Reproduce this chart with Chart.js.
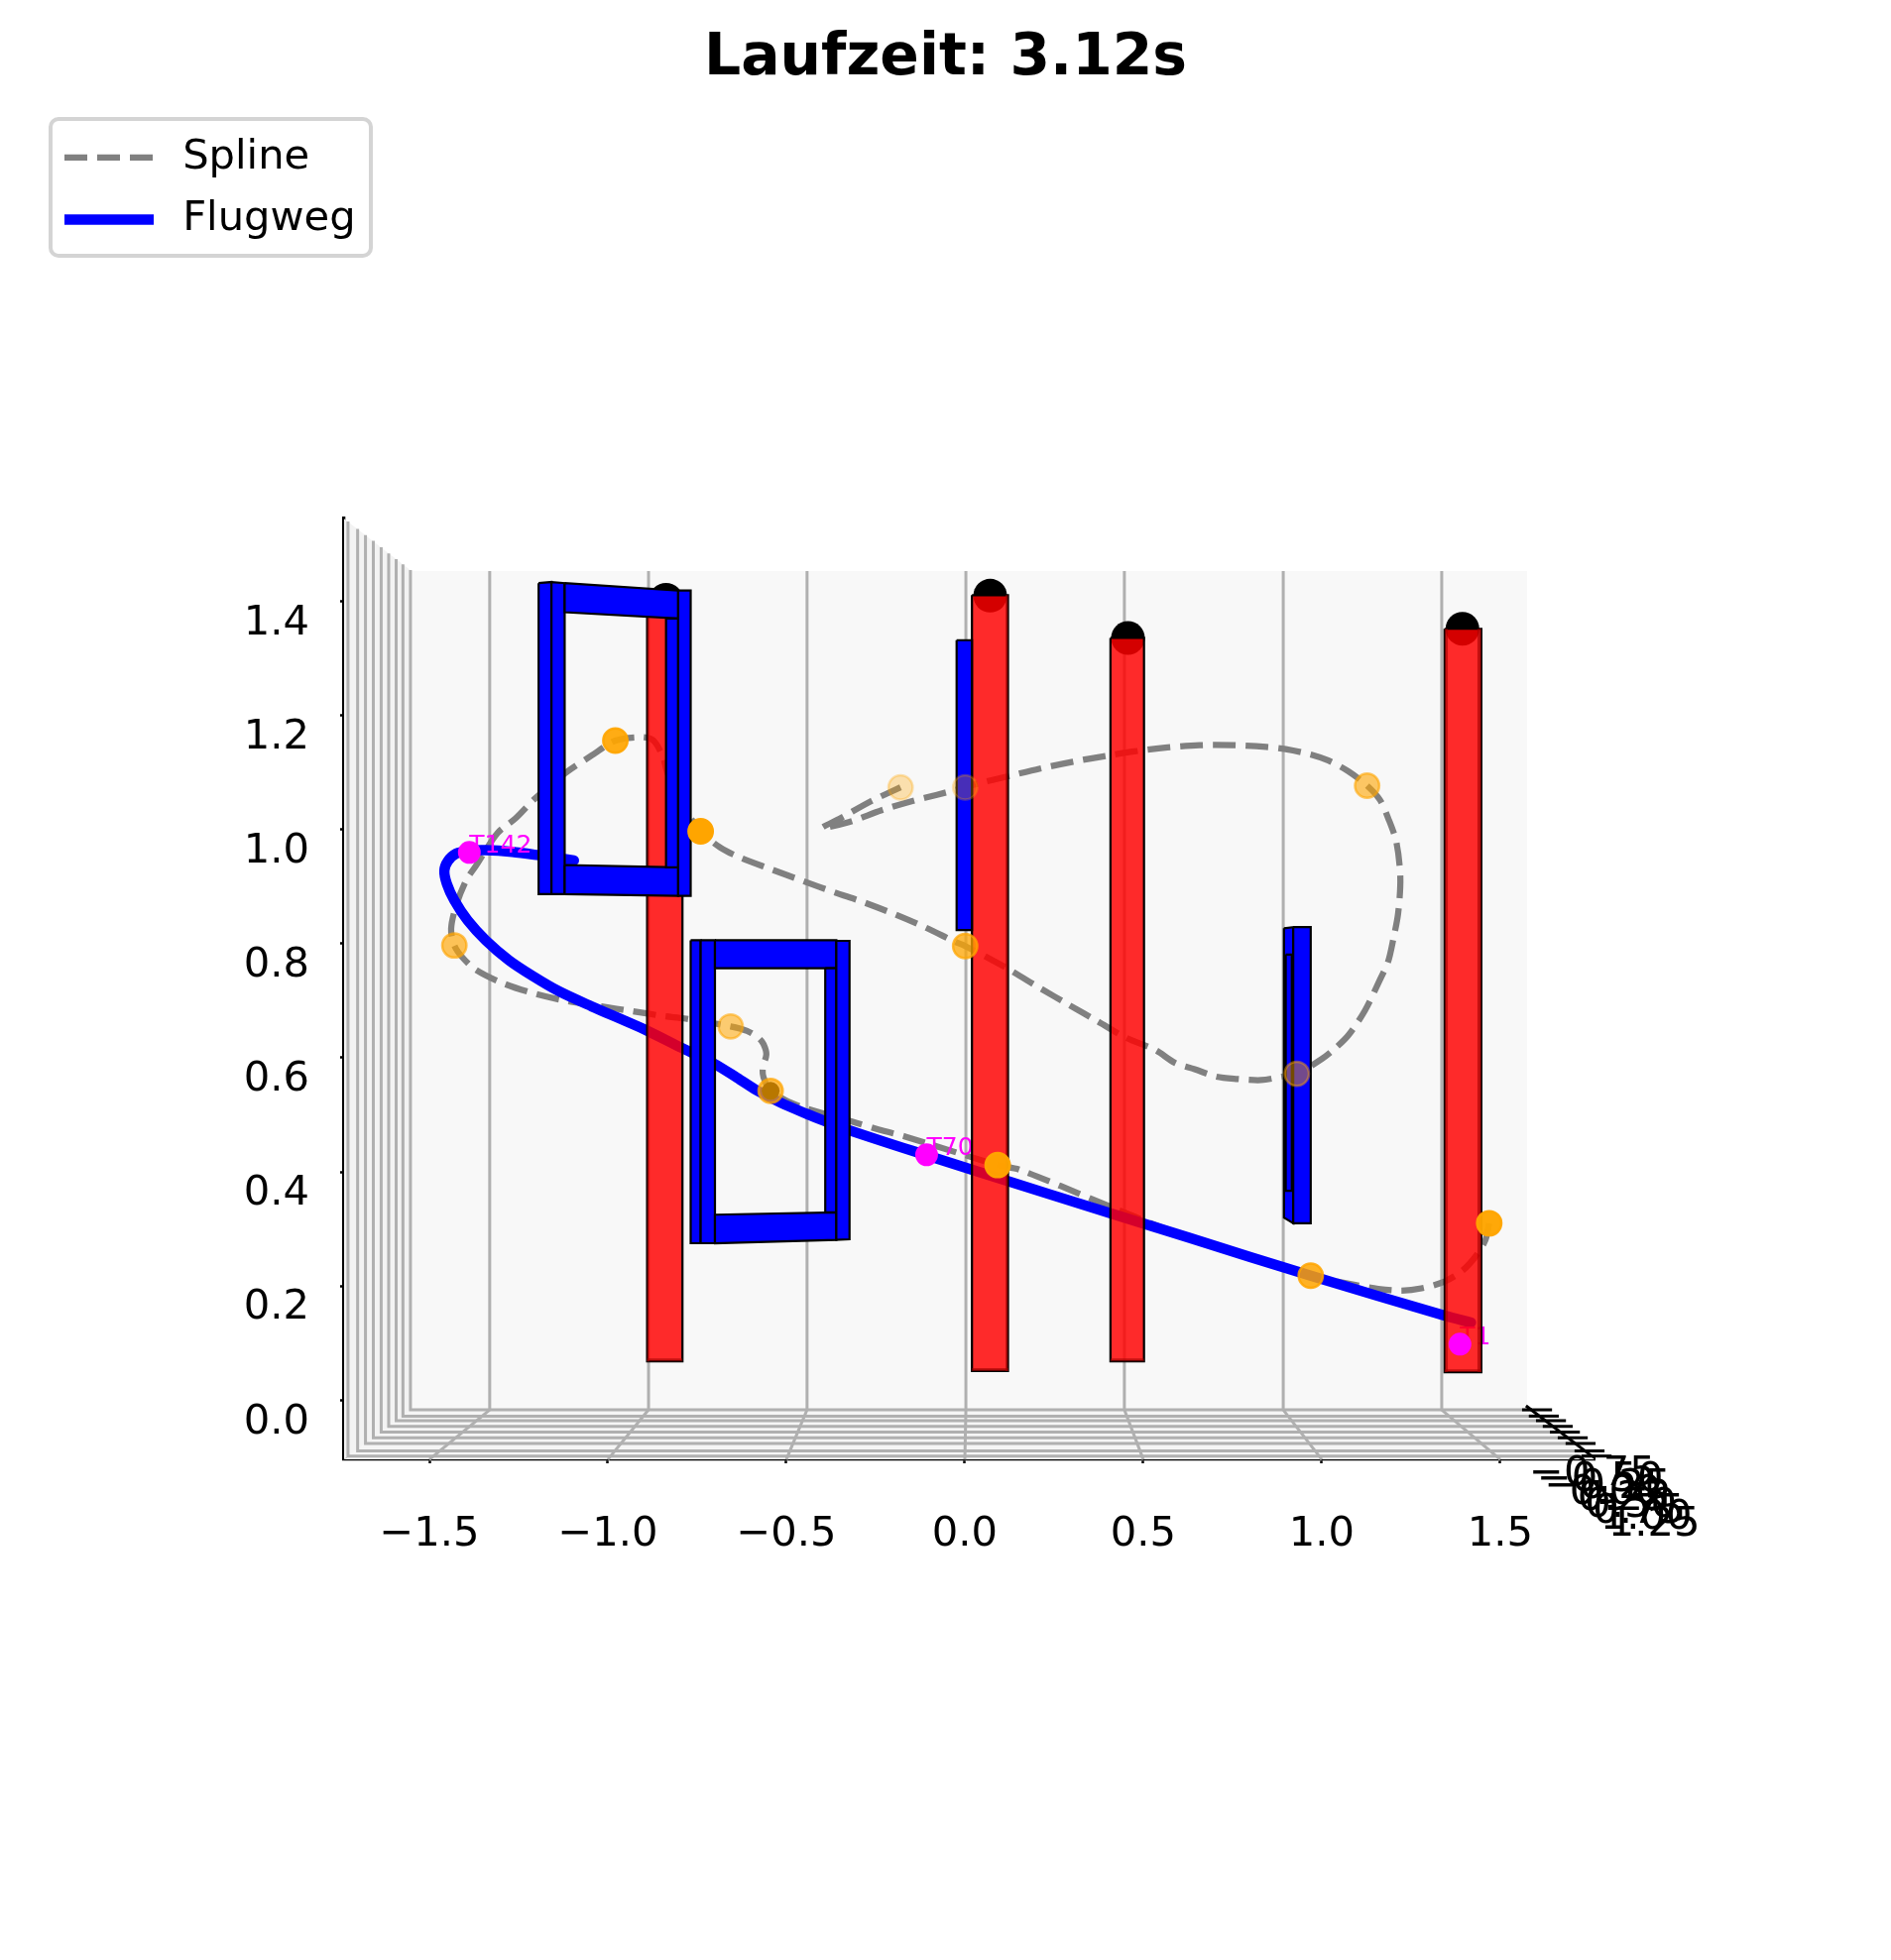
<!DOCTYPE html>
<html>
<head>
<meta charset="utf-8">
<title>Laufzeit</title>
<script src="https://cdn.jsdelivr.net/npm/chart.js@4"></script>
<style>
    html, body { margin: 0; padding: 0; background: #fff; }
    canvas { display: block; }
</style>
</head>
<body>
<canvas id="flight-chart" width="1907" height="1977"></canvas>
<script>
// Axis ticks
const xTicks = [-1.5, -1.0, -0.5, 0.0, 0.5, 1.0, 1.5];
const zTicks = [0.0, 0.2, 0.4, 0.6, 0.8, 1.0, 1.2, 1.4];
const depthLabels = ['\u22120.75', '\u22120.50', '\u22120.25', '0.00', '0.25', '0.50', '0.75', '1.00', '1.25'];
const depthLabelX = [1.758, 1.780, 1.801, 1.823, 1.845, 1.866, 1.888, 1.909, 1.931];
const depthLabelZ = [-0.130, -0.141, -0.152, -0.163, -0.174, -0.185, -0.196, -0.207, -0.218];

// Box grid, as seen on the back wall, left wall and floor
const backGridX = [-1.331, -0.886, -0.442, 0.003, 0.447, 0.892, 1.336];
const wallGridX = [-1.728, -1.701, -1.679, -1.657, -1.635, -1.614, -1.593, -1.574, -1.553];
const wallGridTop = [1.540, 1.527, 1.516, 1.506, 1.495, 1.484, 1.474, 1.465, 1.455];
const floorGridZ = [-0.098, -0.089, -0.076, -0.066, -0.056, -0.046, -0.036, -0.028, -0.017];
const floorGridEnd = [1.756, 1.736, 1.711, 1.689, 1.667, 1.647, 1.628, 1.608, 1.589];

// Spline (dashed)
const splineX = [1.469, 1.458, 1.431, 1.394, 1.344, 1.279, 1.223, 1.158, 1.094, 0.969, 0.769, 0.572, 0.381, 0.153, 0.092,
    -0.167, -0.240, -0.314, -0.444, -0.490, -0.544, -0.564, -0.566, -0.556, -0.564, -0.578, -0.610, -0.656, -0.786, -0.842,
    -0.934, -1.018, -1.119, -1.208, -1.295, -1.369, -1.406, -1.430, -1.439, -1.425, -1.397, -1.369, -1.309, -1.258, -1.203,
    -1.119, -1.045, -0.979, -0.911, -0.874, -0.846, -0.833, -0.786, -0.740, -0.684, -0.629, -0.545, -0.458, -0.365, -0.285,
    -0.198, -0.112, -0.026, 0.001, 0.118, 0.211, 0.291, 0.372, 0.452, 0.533, 0.589, 0.644, 0.705, 0.764, 0.830,
    0.889, 0.930, 1.000, 1.038, 1.075, 1.121, 1.163, 1.186, 1.200, 1.214, 1.220, 1.209, 1.186, 1.163, 1.127,
    1.075, 1.019, 0.973, 0.899, 0.844, 0.751, 0.658, 0.568, 0.475, 0.394, 0.303, 0.211, 0.118, 0.038, 0.001,
    -0.078, -0.147, -0.233, -0.325, -0.400, -0.348, -0.262, -0.180];
const splineZ = [0.310, 0.280, 0.252, 0.227, 0.208, 0.196, 0.192, 0.195, 0.202, 0.218, 0.258, 0.298, 0.346, 0.404, 0.412,
    0.462, 0.474, 0.488, 0.511, 0.522, 0.542, 0.566, 0.583, 0.606, 0.624, 0.635, 0.647, 0.655, 0.669, 0.673,
    0.682, 0.690, 0.700, 0.713, 0.731, 0.754, 0.775, 0.797, 0.826, 0.867, 0.911, 0.937, 0.994, 1.020, 1.055,
    1.099, 1.130, 1.156, 1.162, 1.157, 1.128, 1.099, 1.038, 0.997, 0.968, 0.951, 0.931, 0.911, 0.890, 0.873,
    0.852, 0.829, 0.803, 0.796, 0.757, 0.722, 0.693, 0.664, 0.635, 0.614, 0.591, 0.580, 0.567, 0.563, 0.561,
    0.567, 0.572, 0.598, 0.617, 0.640, 0.683, 0.737, 0.769, 0.807, 0.854, 0.916, 0.978, 1.020, 1.052, 1.077,
    1.102, 1.121, 1.131, 1.141, 1.145, 1.148, 1.148, 1.144, 1.137, 1.129, 1.119, 1.107, 1.093, 1.081, 1.074,
    1.061, 1.050, 1.034, 1.013, 1.003, 1.020, 1.050, 1.074];

// Flugweg (solid)
const pathX = [1.418, 1.344, 0.969, 0.631, 0.242, -0.147, -0.323, -0.388, -0.444, -0.518, -0.583, -0.638, -0.703, -0.795,
    -0.888, -0.953, -1.045, -1.138, -1.212, -1.277, -1.342, -1.393, -1.430, -1.451, -1.458, -1.448, -1.425, -1.388,
    -1.342, -1.268, -1.194, -1.095];
const pathZ = [0.136, 0.148, 0.218, 0.284, 0.360, 0.437, 0.473, 0.488, 0.502, 0.522, 0.543, 0.565, 0.590, 0.618,
    0.647, 0.665, 0.690, 0.717, 0.744, 0.771, 0.806, 0.841, 0.876, 0.905, 0.928, 0.945, 0.958, 0.963,
    0.964, 0.961, 0.955, 0.946];

// Orange spline knots, with the depth shade each one has in the picture
const knotX = [1.469, 1.127, 0.930, 0.001, -0.180, 0.001, 0.092, 0.969, -0.544, -0.656, -1.430, -0.979, -0.740];
const knotZ = [0.310, 1.077, 0.572, 1.074, 1.074, 0.796, 0.412, 0.218, 0.542, 0.655, 0.797, 1.156, 0.997];
const knotShade = [0.97, 0.6, 0.45, 0.28, 0.3, 0.75, 0.97, 0.85, 0.72, 0.55, 0.65, 0.92, 1.0];

// Dark dot seen through the knot on the flight path
const knotCoreX = [-0.544];
const knotCoreZ = [0.542];

// Magenta time markers
const markerX = [1.387, -0.107, -1.388];
const markerZ = [0.098, 0.430, 0.960];
const markerLabels = ['T1', 'T70', 'T142'];

// Pillars
const pillarCapX = [-0.837, 0.071, 0.457, 1.394];
const pillarCapZ = [1.403, 1.410, 1.336, 1.352];
const pillars = [
    [[-0.890, 1.406], [-0.791, 1.406], [-0.791, 0.068], [-0.890, 0.068]],
    [[0.020, 1.411], [0.121, 1.411], [0.121, 0.051], [0.020, 0.051]],
    [[0.408, 1.336], [0.502, 1.336], [0.502, 0.068], [0.408, 0.068]],
    [[1.344, 1.352], [1.447, 1.352], [1.447, 0.049], [1.344, 0.049]]
];
const pillarSides = [
    [[-0.890, 1.406], [-0.885, 1.406], [-0.885, 0.068], [-0.890, 0.068]],
    [[0.114, 1.411], [0.121, 1.411], [0.121, 0.051], [0.114, 0.051]],
    [[1.344, 1.352], [1.353, 1.352], [1.353, 0.049], [1.344, 0.049]],
    [[1.436, 1.352], [1.447, 1.352], [1.447, 0.049], [1.436, 0.049]],
    [[-0.890, 0.073], [-0.791, 0.073], [-0.791, 0.068], [-0.890, 0.068]],
    [[0.020, 0.056], [0.121, 0.056], [0.121, 0.051], [0.020, 0.051]],
    [[0.408, 0.073], [0.502, 0.073], [0.502, 0.068], [0.408, 0.068]],
    [[1.344, 0.054], [1.447, 0.054], [1.447, 0.049], [1.344, 0.049]]
];

// Gates, seen from the front
const gateFaces = [
    [[-1.194, 1.432], [-1.158, 1.434], [-1.158, 0.887], [-1.194, 0.887]],
    [[-1.158, 1.434], [-1.121, 1.432], [-1.121, 0.887], [-1.158, 0.887]],
    [[-1.121, 1.432], [-0.803, 1.419], [-0.803, 1.370], [-1.121, 1.381]],
    [[-1.121, 0.938], [-0.803, 0.934], [-0.803, 0.884], [-1.121, 0.887]],
    [[-0.837, 1.370], [-0.803, 1.370], [-0.803, 0.934], [-0.837, 0.934]],
    [[-0.803, 1.419], [-0.768, 1.419], [-0.768, 0.884], [-0.803, 0.884]],
    [[-0.768, 0.806], [-0.740, 0.806], [-0.740, 0.275], [-0.768, 0.275]],
    [[-0.740, 0.806], [-0.700, 0.806], [-0.700, 0.275], [-0.740, 0.275]],
    [[-0.700, 0.806], [-0.360, 0.806], [-0.360, 0.757], [-0.700, 0.757]],
    [[-0.700, 0.325], [-0.360, 0.329], [-0.360, 0.281], [-0.700, 0.275]],
    [[-0.391, 0.757], [-0.360, 0.757], [-0.360, 0.329], [-0.391, 0.329]],
    [[-0.360, 0.805], [-0.323, 0.805], [-0.323, 0.282], [-0.360, 0.281]],
    [[-0.023, 1.332], [0.020, 1.332], [0.020, 0.824], [-0.023, 0.824]],
    [[0.894, 0.827], [0.920, 0.829], [0.920, 0.310], [0.894, 0.320]],
    [[0.899, 0.781], [0.916, 0.781], [0.916, 0.367], [0.899, 0.367]],
    [[0.920, 0.829], [0.969, 0.829], [0.969, 0.310], [0.920, 0.310]]
];

// Panes of the box
const leftPane = [[-1.739, 1.545], [-1.550, 1.453], [-1.550, -0.017], [-1.739, -0.104]];
const backPane = [[-1.550, 1.453], [1.575, 1.453], [1.575, -0.017], [-1.550, -0.017]];
const floorPane = [[-1.739, -0.104], [-1.550, -0.017], [1.575, -0.017], [1.764, -0.104]];
const depthAxis = [[1.572, -0.010], [1.756, -0.098]];

const FONT = '"DejaVu Sans"';
const GRID = '#b0b0b0';
const BLUE = '#0000ff';
const GREY = '#808080';
const SPLINE_DASH = [23, 10];

function xyPoints(xs, zs) {
    return xs.map((x, i) => ({ x: x, y: zs[i] }));
}

function pairPoints(pairs) {
    return pairs.map(p => ({ x: p[0], y: p[1] }));
}

function polygon(pairs, fillColor, borderColor, borderWidth) {
    return {
        data: pairPoints(pairs.concat([pairs[0]])),
        showLine: true,
        fill: 'shape',
        backgroundColor: fillColor,
        borderColor: borderColor || 'transparent',
        borderWidth: borderWidth || 0,
        borderJoinStyle: 'miter',
        pointRadius: 0
    };
}

function polyline(pairs, color, width) {
    return {
        data: pairPoints(pairs),
        showLine: true,
        fill: false,
        borderColor: color,
        borderWidth: width,
        pointRadius: 0,
        clip: false
    };
}

function buildDatasets() {
    const sets = [];

    // Box
    sets.push(polygon(backPane, '#f8f8f8'));
    sets.push(polygon(leftPane, '#f3f3f3'));
    sets.push(polygon(floorPane, '#f5f5f5'));
    backGridX.forEach((x, i) => {
        sets.push(polyline([[x, 1.453], [x, -0.017], [xTicks[i], -0.104]], GRID, 3));
    });
    wallGridX.forEach((x, i) => {
        sets.push(polyline([[x, wallGridTop[i]], [x, floorGridZ[i]], [floorGridEnd[i], floorGridZ[i]]], GRID, 3));
    });
    floorGridZ.forEach((z, i) => {
        sets.push(polyline([[floorGridEnd[i] - 0.028, z], [floorGridEnd[i] + 0.056, z]], '#000', 3));
    });
    sets.push(polyline(depthAxis, '#000', 3));

    // Spline and flight path
    sets.push({
        label: 'Spline',
        data: xyPoints(splineX, splineZ),
        showLine: true,
        fill: false,
        borderColor: GREY,
        borderWidth: 6.25,
        borderDash: SPLINE_DASH,
        tension: 0.3,
        pointRadius: 0
    });
    sets.push({
        label: 'Flugweg',
        data: xyPoints(pathX, pathZ),
        showLine: true,
        fill: false,
        borderColor: BLUE,
        borderWidth: 10.4,
        borderCapStyle: 'round',
        tension: 0.3,
        pointRadius: 0
    });

    // Pillars with their black caps
    sets.push({
        data: xyPoints(pillarCapX, pillarCapZ),
        backgroundColor: '#000',
        borderWidth: 0,
        pointRadius: 17
    });
    pillars.forEach(p => sets.push(polygon(p, 'rgba(255, 0, 0, 0.83)', '#000', 2.2)));
    pillarSides.forEach(p => sets.push(polygon(p, 'rgba(160, 0, 0, 0.6)')));

    // Gates
    gateFaces.forEach(p => sets.push(polygon(p, BLUE, '#000', 2.2)));

    // Knots and markers
    sets.push({
        data: xyPoints(knotCoreX, knotCoreZ),
        backgroundColor: '#000',
        borderWidth: 0,
        pointRadius: 9
    });
    sets.push({
        data: xyPoints(knotX, knotZ),
        pointBackgroundColor: knotShade.map(a => `rgba(255, 165, 0, ${a})`),
        pointBorderColor: knotShade.map(a => `rgba(255, 165, 0, ${a})`),
        pointBorderWidth: 2.5,
        pointRadius: 12.2
    });
    sets.push({
        data: xyPoints(markerX, markerZ),
        backgroundColor: '#ff00ff',
        borderWidth: 0,
        pointRadius: 11.5
    });

    // First dataset is painted first, so the list reads bottom to top
    sets.forEach((s, i) => { s.order = sets.length - i; });
    return sets;
}

const datasets = buildDatasets();
const pathIndex = datasets.findIndex(d => d.label === 'Flugweg');

// Marker labels sit behind the pillars, so they go in right after the flight path
const markerLabelPlugin = {
    id: 'markerLabels',
    afterDatasetDraw(chart, args) {
        if (args.index !== pathIndex) return;
        const ctx = chart.ctx;
        ctx.save();
        ctx.font = `25px ${FONT}`;
        ctx.fillStyle = '#ff00ff';
        ctx.textAlign = 'left';
        ctx.textBaseline = 'alphabetic';
        markerLabels.forEach((text, i) => {
            ctx.fillText(text, chart.scales.x.getPixelForValue(markerX[i]), chart.scales.y.getPixelForValue(markerZ[i]));
        });
        ctx.restore();
    }
};

// Depth axis labels: Chart.js has no third axis
const depthLabelPlugin = {
    id: 'depthLabels',
    afterDraw(chart) {
        const ctx = chart.ctx;
        ctx.save();
        ctx.font = `41.67px ${FONT}`;
        ctx.fillStyle = '#000';
        ctx.textAlign = 'center';
        ctx.textBaseline = 'middle';
        depthLabels.forEach((text, i) => {
            ctx.fillText(text, chart.scales.x.getPixelForValue(depthLabelX[i]), chart.scales.y.getPixelForValue(depthLabelZ[i]));
        });
        ctx.restore();
    }
};

// Centre the title on the page, move the legend to the top left corner and frame it
const legendFramePlugin = {
    id: 'legendFrame',
    afterLayout(chart) {
        chart.titleBlock.right = chart.width;
        chart.legend.left = 44;
        chart.legend.top = 117;
    },
    afterDraw(chart) {
        const ctx = chart.ctx;
        ctx.save();
        ctx.strokeStyle = '#d4d4d4';
        ctx.lineWidth = 4;
        ctx.beginPath();
        ctx.roundRect(51, 120, 323, 138, 8);
        ctx.stroke();
        ctx.restore();
    }
};

function initChart() {
    const ctx = document.getElementById('flight-chart').getContext('2d');

    new Chart(ctx, {
        type: 'scatter',
        data: { datasets: datasets },
        plugins: [markerLabelPlugin, depthLabelPlugin, legendFramePlugin],
        options: {
            responsive: false,
            devicePixelRatio: 1,
            animation: false,
            layout: { autoPadding: false, padding: { left: 0, top: 0, right: 299, bottom: 0 } },
            scales: {
                x: {
                    type: 'linear',
                    min: -1.7389,
                    max: 1.764,
                    afterBuildTicks: scale => { scale.ticks = xTicks.map(v => ({ value: v })); },
                    afterFit: scale => { scale.height = 505; },
                    grid: { drawOnChartArea: false, tickLength: 4, tickWidth: 2.5, tickColor: '#000' },
                    border: { color: '#000', width: 3.3 },
                    ticks: {
                        autoSkip: false,
                        maxRotation: 0,
                        padding: 47,
                        color: '#000',
                        font: { family: FONT, size: 41.67 },
                        callback: v => v.toFixed(1).replace('-', '\u2212')
                    }
                },
                y: {
                    type: 'linear',
                    min: -0.1038,
                    max: 1.5453,
                    afterBuildTicks: scale => { scale.ticks = zTicks.map(v => ({ value: v })); },
                    afterFit: scale => { scale.width = 347; },
                    grid: { drawOnChartArea: false, tickLength: 4, tickWidth: 2.5, tickColor: '#000' },
                    border: { color: '#000', width: 3.3 },
                    ticks: {
                        autoSkip: false,
                        padding: 31,
                        labelOffset: 22.5,
                        color: '#000',
                        font: { family: FONT, size: 41.67 },
                        callback: v => v.toFixed(1)
                    }
                }
            },
            plugins: {
                tooltip: { enabled: false },
                title: {
                    display: true,
                    text: 'Laufzeit: 3.12s',
                    color: '#000',
                    font: { family: FONT, size: 58.33, weight: 'bold' },
                    padding: { top: 25, bottom: 428 }
                },
                legend: {
                    display: true,
                    position: 'chartArea',
                    align: 'start',
                    labels: {
                        usePointStyle: true,
                        pointStyleWidth: 90,
                        padding: 21,
                        color: '#000',
                        font: { family: FONT, size: 41.67 },
                        generateLabels: () => [
                            { text: '\u2009Spline', strokeStyle: GREY, fillStyle: GREY, lineWidth: 6.25, lineDash: SPLINE_DASH, pointStyle: 'line', hidden: false },
                            { text: '\u2009Flugweg', strokeStyle: BLUE, fillStyle: BLUE, lineWidth: 10.4, pointStyle: 'line', hidden: false }
                        ]
                    }
                }
            }
        }
    });
}

initChart();
</script>
</body>
</html>
